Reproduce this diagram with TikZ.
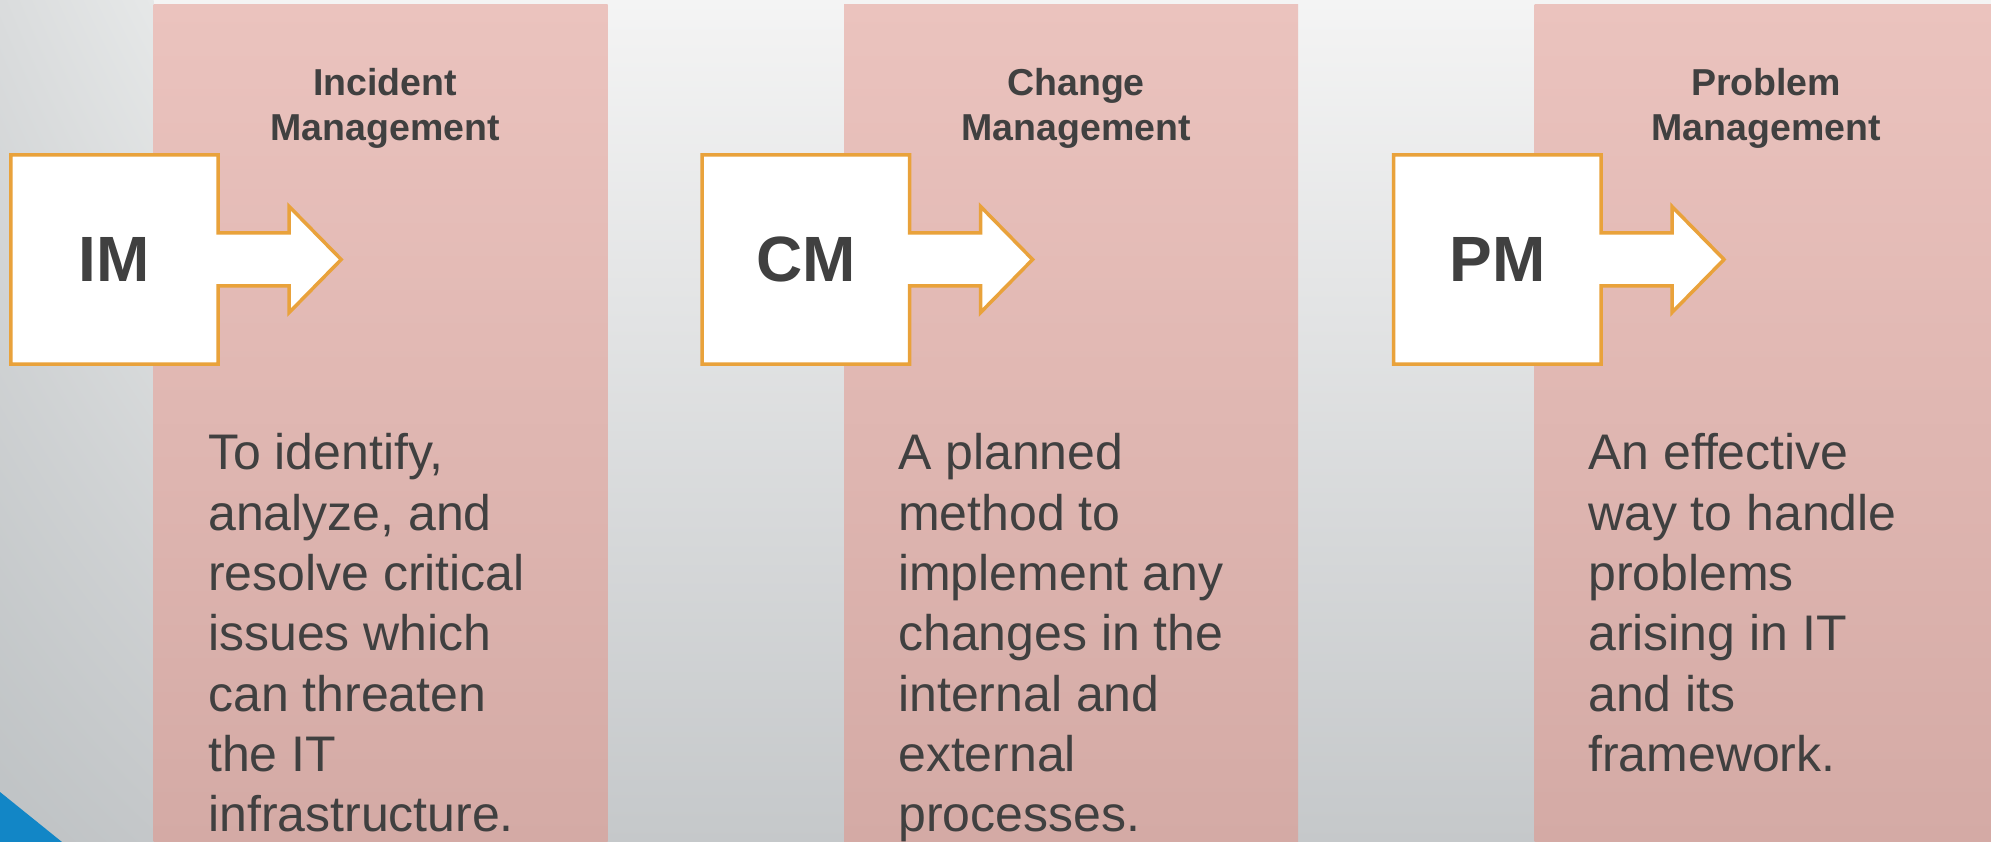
\documentclass[tikz,border=0pt]{standalone}
\usepackage{fontspec}
\setmainfont{Liberation Sans}
\usepackage{xcolor}
\usetikzlibrary{calc,positioning,shadings}

\definecolor{textgrey}{HTML}{404040}
\definecolor{pointerline}{HTML}{E9A23B}
\definecolor{pinktop}{HTML}{EBC3BE}
\definecolor{pinkbottom}{HTML}{D4AAA5}
\definecolor{bgtop}{HTML}{F4F4F4}
\definecolor{bgbottom}{HTML}{C5C8CA}
\definecolor{edgeUL}{HTML}{DADCDD}
\definecolor{edgeUR}{HTML}{E6E8E8}
\definecolor{edgeLL}{HTML}{BEC2C4}
\definecolor{edgeLR}{HTML}{C4C7C9}
\definecolor{cornerblue}{HTML}{1286C6}

\pgfdeclarelayer{background}
\pgfdeclarelayer{shapes}
\pgfsetlayers{background,shapes,main}

\begin{document}
\begin{tikzpicture}[x=1pt, y=-1pt,
    tag/.style={minimum width=207pt, minimum height=209pt, inner sep=0pt, text=textgrey, font=\fontsize{64}{77}\selectfont\bfseries},
    heading/.style={align=center, inner sep=0pt, text=textgrey, font=\fontsize{37.5}{45}\selectfont\bfseries},
    body/.style={align=left, anchor=north west, inner sep=0pt, text=textgrey, font=\fontsize{50}{60.3}\selectfont},
    column/.style={top color=pinktop, bottom color=pinkbottom},
    pointer/.style={draw=pointerline, fill=white, line width=3.5pt, line join=miter}]

    \useasboundingbox (0,0) rectangle (1991,842);

    % abbreviation boxes
    \node[tag] (im) at (114.5,259.5) {IM};
    \node[tag, right=484pt of im] (cm) {CM};
    \node[tag, right=484pt of cm] (pm) {PM};

    % column titles
    \node[heading] (imhead) at (385,108) {Incident\\Management};
    \node[heading] (cmhead) at (1076,108) {Change\\Management};
    \node[heading] (pmhead) at (1766,108) {Problem\\Management};

    % descriptions
    \node[body] (imtext) at (208,433.5) {To identify,\\analyze, and\\resolve critical\\issues which\\can threaten\\the IT\\infrastructure.};
    \node[body] (cmtext) at (898,433.5) {A planned\\method to\\implement any\\changes in the\\internal and\\external\\processes.};
    \node[body] (pmtext) at (1588,433.5) {An effective\\way to handle\\problems\\arising in IT\\and its\\framework.};

    % box with arrow
    \begin{pgfonlayer}{shapes}
    \foreach \tagname in {im,cm,pm}
        \draw[pointer] (\tagname.north west) -- (\tagname.north east) -- ($(\tagname.east)+(0,-26.5)$) -- ++(71,0) -- ++(0,-26.5)
            -- ($(\tagname.east)+(123,0)$) -- ($(\tagname.east)+(71,53)$) -- ++(0,-26.5) -- ($(\tagname.east)+(0,26.5)$)
            -- (\tagname.south east) -- (\tagname.south west) -- cycle;
    \end{pgfonlayer}

    % slide background
    \begin{pgfonlayer}{background}
    \shade[top color=bgtop, bottom color=bgbottom] (0,0) rectangle (1991,842);
    \shade[upper left=edgeUL, upper right=edgeUR, lower left=edgeLL, lower right=edgeLR] (0,0) rectangle (153.5,842);
    \shade[column] (153.5,5) rectangle (607.5,842);
    \shade[column] (844,5) rectangle (1298,842);
    \shade[column] (1534.5,5) rectangle (1991,842);
    \fill[cornerblue] (0,792) -- (62,842) -- (0,842) -- cycle;
    \end{pgfonlayer}
\end{tikzpicture}
\end{document}
